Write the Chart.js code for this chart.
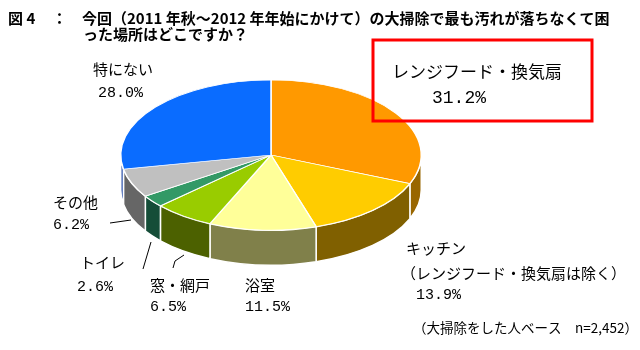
<!DOCTYPE html>
<html lang="ja">
<head>
<meta charset="UTF-8" />
<title>大掃除で最も汚れが落ちなくて困った場所</title>
<style>
  body { margin: 0; background: #fff; }
  #wrap { width: 640px; height: 350px; }
</style>
</head>
<body>
<div id="wrap"><canvas id="graphic" width="640" height="350"></canvas></div>
<script src="https://cdn.jsdelivr.net/npm/chart.js"></script>
<script>
// 回答データ（12時の位置から時計回り）
const labels = ["レンジフード・換気扇", "キッチン", "浴室", "窓・網戸", "トイレ", "その他", "特にない"];
const values = [31.2, 13.9, 11.5, 6.5, 2.6, 6.2, 28.0];
const topColors = ["#ff9900", "#ffcc00", "#ffff99", "#99cc00", "#339966", "#c0c0c0", "#0a6cff"];
const sideColors = ["#996600", "#806000", "#80804a", "#4c6100", "#154d38", "#666666", "#2a4fa8"];
const kitchenNote = "（レンジフード・換気扇は除く）";
const baseNote = "（大掃除をした人ベース　n=2,452）";

const TILT = 0.5;     // 楕円のつぶし具合
const DEPTH = 35;     // 側面の厚み
const CENTER_Y = 155; // 上面の中心

const JP = '"Noto Sans CJK JP", sans-serif';
const MONO = '"Liberation Mono", monospace';

// ラベル位置 [名前x, 名前y, 数値x, 数値y]
const labelPos = [
  [392, 72, 432, 98],
  [406, 248, 416, 295],
  [245, 285, 245, 307],
  [150, 285, 150, 307],
  [80, 262, 77, 287],
  [53, 202, 53, 225],
  [93, 69, 98, 93]
];

const pct = v => v.toFixed(1) + "%";

// 側面を描いてから上面を縦につぶして描く
const pie3d = {
  id: "pie3d",
  beforeDatasetsDraw(chart) {
    const ctx = chart.ctx;
    const arcs = chart.getDatasetMeta(0).data;
    const cx = arcs[0].x, cy = arcs[0].y, r = arcs[0].outerRadius;
    const ry = r * TILT;
    ctx.save();
    arcs.forEach((arc, i) => {
      const s = Math.max(arc.startAngle, 0);
      const e = Math.min(arc.endAngle, Math.PI);
      if (s >= e) return;
      ctx.beginPath();
      ctx.ellipse(cx, CENTER_Y, r, ry, 0, s, e);
      ctx.ellipse(cx, CENTER_Y + DEPTH, r, ry, 0, e, s, true);
      ctx.closePath();
      ctx.fillStyle = sideColors[i];
      ctx.fill();
      ctx.lineWidth = 1.5;
      ctx.strokeStyle = "#fff";
      ctx.stroke();
    });
    ctx.restore();

    ctx.save();
    ctx.translate(0, CENTER_Y);
    ctx.scale(1, TILT);
    ctx.translate(0, -cy);
  },
  afterDatasetsDraw(chart) {
    chart.ctx.restore();
  },
  afterDraw(chart) {
    const ctx = chart.ctx;
    ctx.save();
    ctx.fillStyle = "#000";
    ctx.textBaseline = "middle";

    // タイトル
    ctx.font = "bold 15px " + JP;
    ctx.fillText("図 4", 8, 18);
    ctx.fillText("：", 52, 18);
    ctx.fillText("今回（2011 年秋～2012 年年始にかけて）の大掃除で最も汚れが落ちなくて困", 82, 18, 541);
    ctx.fillText("った場所はどこですか？", 83, 34);

    // 最大項目の枠
    ctx.strokeStyle = "#ff0000";
    ctx.lineWidth = 3;
    ctx.strokeRect(373, 40, 219, 81);
    ctx.font = "17px " + JP;
    ctx.fillText(labels[0], labelPos[0][0], labelPos[0][1]);
    ctx.font = "18px " + MONO;
    ctx.fillText(pct(values[0]), labelPos[0][2], labelPos[0][3]);

    // その他のラベル
    for (let i = 1; i < labels.length; i++) {
      const p = labelPos[i];
      ctx.font = "15px " + JP;
      ctx.fillText(labels[i], p[0], p[1]);
      ctx.font = "15px " + MONO;
      ctx.fillText(pct(values[i]), p[2], p[3]);
    }
    ctx.font = "15px " + JP;
    ctx.fillText(kitchenNote, 401, 273);
    ctx.font = "13.5px " + JP;
    ctx.fillText(baseNote, 413, 328);

    // 引き出し線
    ctx.strokeStyle = "#000";
    ctx.lineWidth = 1;
    ctx.beginPath();
    ctx.moveTo(110, 223); ctx.lineTo(131, 220);
    ctx.moveTo(143, 269); ctx.lineTo(151, 242);
    ctx.moveTo(173, 268); ctx.lineTo(175, 261); ctx.lineTo(184, 255);
    ctx.stroke();
    ctx.restore();
  }
};

new Chart(document.getElementById("graphic"), {
  type: "pie",
  data: {
    labels: labels,
    datasets: [{
      data: values,
      backgroundColor: topColors,
      borderColor: "#fff",
      borderWidth: 1.5,
      clip: false
    }]
  },
  options: {
    responsive: false,
    animation: false,
    events: [],
    layout: { padding: { left: 120, right: 218, top: 20, bottom: 28 } },
    plugins: { legend: { display: false }, tooltip: { enabled: false } }
  },
  plugins: [pie3d]
});
</script>
</body>
</html>
